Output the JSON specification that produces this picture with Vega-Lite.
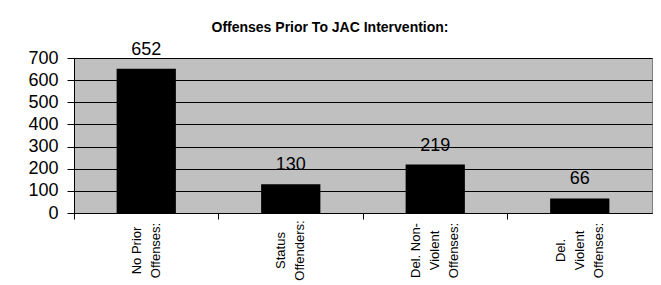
{
  "$schema": "https://vega.github.io/schema/vega-lite/v6.json",
  "width": 578,
  "height": 155,
  "autosize": {"type": "none"},
  "padding": {"left": 74, "top": 58, "right": 9, "bottom": 72},
  "background": "white",
  "title": {
    "text": "Offenses Prior To JAC Intervention:",
    "font": "Liberation Sans",
    "fontSize": 14,
    "fontWeight": "bold",
    "color": "black",
    "anchor": "middle",
    "frame": "group",
    "dx": -33,
    "offset": 6
  },
  "config": {
    "view": {"fill": "#C0C0C0", "stroke": "#808080", "strokeWidth": 1},
    "font": "Liberation Sans"
  },
  "data": {
    "values": [
      {"category": "No Prior|Offenses:", "value": 652},
      {"category": "Status|Offenders:", "value": 130},
      {"category": "Del. Non-|Violent|Offenses:", "value": 219},
      {"category": "Del.|Violent|Offenses:", "value": 66}
    ]
  },
  "encoding": {
    "y": {
      "field": "value",
      "type": "quantitative",
      "scale": {"domain": [0, 700], "nice": false},
      "axis": {
        "title": null,
        "values": [0, 100, 200, 300, 400, 500, 600, 700],
        "labelOverlap": false,
        "grid": true,
        "gridColor": "black",
        "gridOpacity": 1,
        "tickColor": "black",
        "tickSize": 7,
        "domainColor": "black",
        "labelFont": "Liberation Sans",
        "labelFontSize": 18,
        "labelColor": "black",
        "labelPadding": 9
      }
    }
  },
  "layer": [
    {
      "mark": {"type": "bar", "color": "black", "width": {"band": 0.41}},
      "encoding": {
        "x": {
          "field": "category",
          "type": "nominal",
          "sort": null,
          "scale": {"paddingInner": 0, "paddingOuter": 0},
          "axis": {
            "title": null,
            "orient": "bottom",
            "ticks": false,
            "tickSize": 0,
            "domainColor": "black",
            "labelAngle": -90,
            "labelAlign": "center",
            "labelBaseline": "middle",
            "labelPadding": 37,
            "labelOffset": {
              "condition": {"test": "indexof(datum.label, 'Violent') >= 0", "value": -19},
              "value": -9.5
            },
            "labelFont": "Liberation Sans",
            "labelFontSize": 13,
            "labelColor": "black",
            "labelLineHeight": 19,
            "labelExpr": "split(datum.label, '|')"
          }
        }
      }
    },
    {
      "mark": {
        "type": "text",
        "font": "Liberation Sans",
        "fontSize": 18,
        "color": "black",
        "baseline": "bottom",
        "dy": -10
      },
      "encoding": {
        "x": {
          "field": "category",
          "type": "nominal",
          "sort": null,
          "axis": {
            "title": null,
            "orient": "bottom",
            "bandPosition": 0,
            "labels": false,
            "ticks": true,
            "tickSize": 6,
            "tickColor": "black",
            "domain": false
          }
        },
        "text": {"field": "value", "type": "quantitative"}
      }
    }
  ],
  "resolve": {"axis": {"x": "independent"}}
}
